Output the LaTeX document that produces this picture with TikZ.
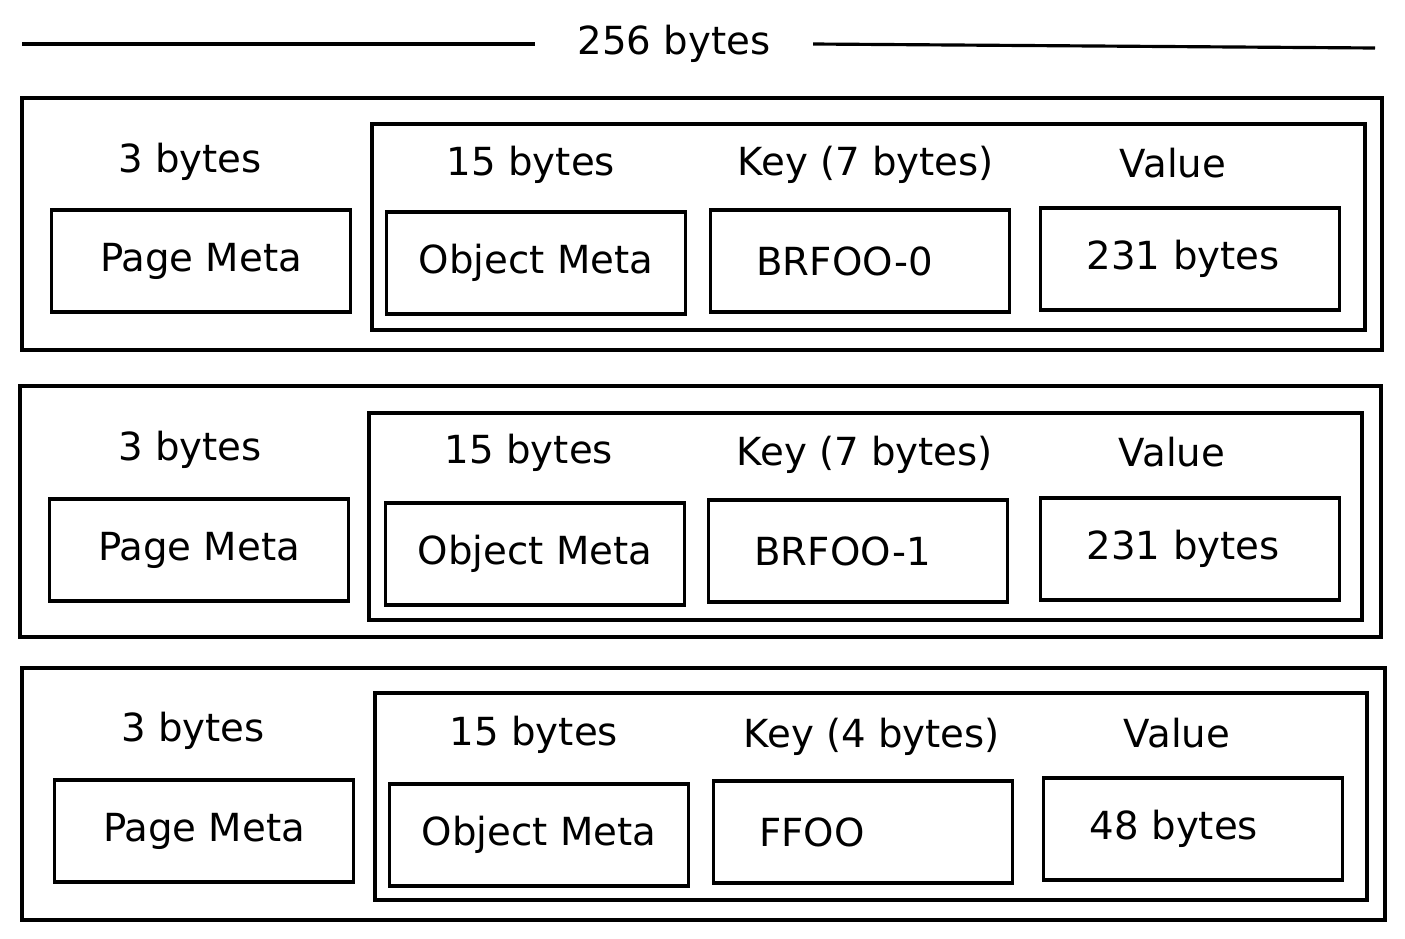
\documentclass[tikz,border=0pt]{standalone}
\usepackage{fontspec}
\setmainfont{DejaVu Sans}
\tikzset{
  frame/.style={draw,line width=0.9pt},
  field/.style={frame,minimum width=2.99cm,minimum height=1.02cm,inner sep=0pt},
  leftfield/.style={field,inner xsep=0.46cm,text width=2.07cm,align=left},
  lbl/.style={inner sep=0pt}
}
\begin{document}
\begin{tikzpicture}[x=0.01cm,y=-0.01cm,font=\fontsize{11}{13}\selectfont]
  \useasboundingbox (0,0) rectangle (1405,939);
  \node[lbl,inner xsep=0.42cm] (total) at (674,44) {256 bytes};
  \draw[frame] (22,44) -- (total.west);
  \draw[frame] (total.east) -- (1375,48);

  \draw[frame] (22,98) rectangle (1382,350);
  \draw[frame] (372,124) rectangle (1365,330);
  \node[lbl] (s1) at (190,162) {3 bytes};
  \node[field] (pm1) at (201,261) {Page Meta};
  \node[lbl] (o1) at (531,165) {15 bytes};
  \node[field] (om1) at (536,263) {Object Meta};
  \node[lbl] (k1) at (866,165) {Key (7 bytes)};
  \node[leftfield] (kv1) at (860,261) {BRFOO-0};
  \node[lbl] (v1) at (1173,163) {Value};
  \node[leftfield] (vv1) at (1190,259) {231 bytes};

  \draw[frame] (20,386) rectangle (1381,637);
  \draw[frame] (369,413) rectangle (1362,620);
  \node[lbl] (s2) at (190,450) {3 bytes};
  \node[field] (pm2) at (199,550) {Page Meta};
  \node[lbl] (o2) at (529,453) {15 bytes};
  \node[field] (om2) at (535,554) {Object Meta};
  \node[lbl] (k2) at (865,455) {Key (7 bytes)};
  \node[leftfield] (kv2) at (858,551) {BRFOO-1};
  \node[lbl] (v2) at (1172,452) {Value};
  \node[leftfield] (vv2) at (1190,549) {231 bytes};

  \draw[frame] (22,668) rectangle (1385,920);
  \draw[frame] (375,693) rectangle (1367,900);
  \node[lbl] (s3) at (193,731) {3 bytes};
  \node[field] (pm3) at (204,831) {Page Meta};
  \node[lbl] (o3) at (534,735) {15 bytes};
  \node[field] (om3) at (539,835) {Object Meta};
  \node[lbl] (k3) at (872,737) {Key (4 bytes)};
  \node[leftfield] (kv3) at (863,832) {FFOO};
  \node[lbl] (v3) at (1177,733) {Value};
  \node[leftfield] (vv3) at (1193,829) {48 bytes};
\end{tikzpicture}
\end{document}
